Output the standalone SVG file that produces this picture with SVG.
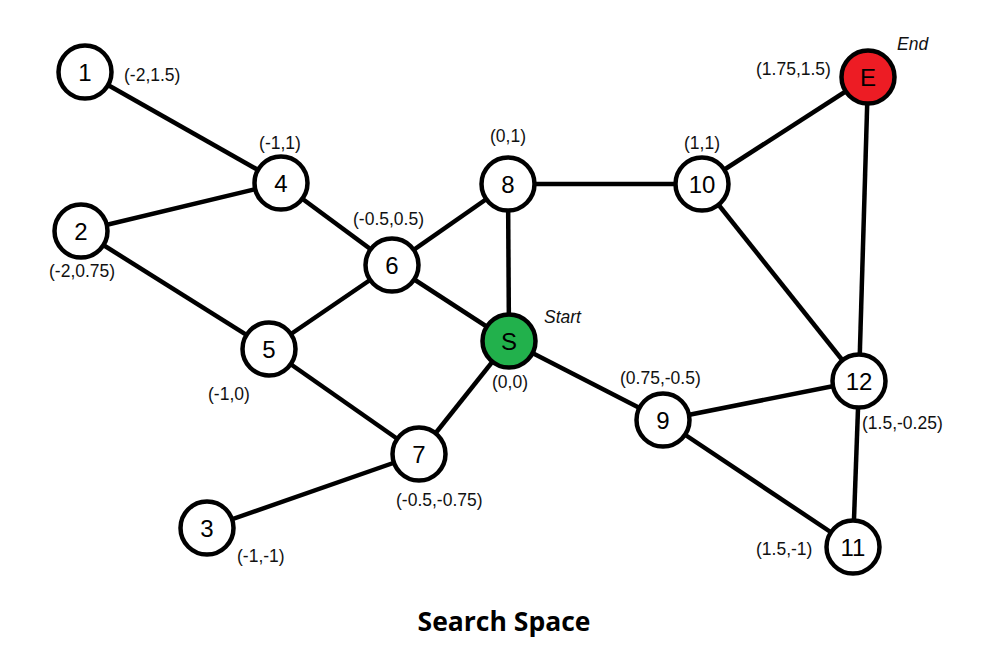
<svg xmlns="http://www.w3.org/2000/svg" width="1000" height="660" viewBox="0 0 1000 660">
<style>
.e{stroke:#000;stroke-width:4.5;fill:none}
.n{fill:#fff;stroke:#000;stroke-width:4.5}
.t{font-family:"Liberation Sans",Arial,sans-serif;font-size:24px;fill:#000;text-anchor:middle;dominant-baseline:central}
.l{font-family:"Liberation Sans",Arial,sans-serif;font-size:17.5px;fill:#111}
.i{font-family:"Liberation Sans",Arial,sans-serif;font-size:17.5px;font-style:italic;fill:#111}
</style>
<rect width="1000" height="660" fill="#fff"/>
<g id="edges">
<line class="e" x1="85" y1="72" x2="281" y2="183"/>
<line class="e" x1="81" y1="231" x2="281" y2="183"/>
<line class="e" x1="81" y1="231" x2="269" y2="349"/>
<line class="e" x1="281" y1="183" x2="392" y2="265"/>
<line class="e" x1="392" y1="265" x2="508" y2="184"/>
<line class="e" x1="392" y1="265" x2="269" y2="349"/>
<line class="e" x1="392" y1="265" x2="509" y2="341"/>
<line class="e" x1="508" y1="184" x2="509" y2="341"/>
<line class="e" x1="508" y1="184" x2="702" y2="184"/>
<line class="e" x1="702" y1="184" x2="868" y2="77"/>
<line class="e" x1="702" y1="184" x2="859" y2="381"/>
<line class="e" x1="868" y1="77" x2="859" y2="381"/>
<line class="e" x1="269" y1="349" x2="419" y2="454"/>
<line class="e" x1="419" y1="454" x2="509" y2="341"/>
<line class="e" x1="419" y1="454" x2="207" y2="528"/>
<line class="e" x1="509" y1="341" x2="663" y2="420"/>
<line class="e" x1="663" y1="420" x2="859" y2="381"/>
<line class="e" x1="663" y1="420" x2="853" y2="547"/>
<line class="e" x1="859" y1="381" x2="853" y2="547"/>
</g>
<g id="n1"><circle class="n" cx="85" cy="72" r="26.5"/><text class="t" x="85" y="72">1</text><text class="l" x="124" y="81">(-2,1.5)</text></g>
<g id="n2"><circle class="n" cx="81" cy="231" r="26.5"/><text class="t" x="81" y="231">2</text><text class="l" x="49" y="277">(-2,0.75)</text></g>
<g id="n3"><circle class="n" cx="207" cy="528" r="26.5"/><text class="t" x="207" y="528">3</text><text class="l" x="237" y="562">(-1,-1)</text></g>
<g id="n4"><circle class="n" cx="281" cy="183" r="26.5"/><text class="t" x="281" y="183">4</text><text class="l" x="280" y="149" text-anchor="middle">(-1,1)</text></g>
<g id="n5"><circle class="n" cx="269" cy="349" r="26.5"/><text class="t" x="269" y="349">5</text><text class="l" x="208" y="400">(-1,0)</text></g>
<g id="n6"><circle class="n" cx="392" cy="265" r="26.5"/><text class="t" x="392" y="265">6</text><text class="l" x="353" y="225">(-0.5,0.5)</text></g>
<g id="n7"><circle class="n" cx="419" cy="454" r="26.5"/><text class="t" x="419" y="454">7</text><text class="l" x="396" y="506">(-0.5,-0.75)</text></g>
<g id="n8"><circle class="n" cx="508" cy="184" r="26.5"/><text class="t" x="508" y="184">8</text><text class="l" x="508" y="142" text-anchor="middle">(0,1)</text></g>
<g id="nS"><circle class="n" cx="509" cy="341" r="26.5" style="fill:#22b14c"/><text class="t" x="509" y="341">S</text><text class="i" x="544" y="323">Start</text><text class="l" x="510" y="388" text-anchor="middle">(0,0)</text></g>
<g id="n9"><circle class="n" cx="663" cy="420" r="26.5"/><text class="t" x="663" y="420">9</text><text class="l" x="620" y="384">(0.75,-0.5)</text></g>
<g id="n10"><circle class="n" cx="702" cy="184" r="26.5"/><text class="t" x="702" y="184">10</text><text class="l" x="702" y="149" text-anchor="middle">(1,1)</text></g>
<g id="n11"><circle class="n" cx="853" cy="547" r="26.5"/><text class="t" x="853" y="547">11</text><text class="l" x="756" y="555">(1.5,-1)</text></g>
<g id="n12"><circle class="n" cx="859" cy="381" r="26.5"/><text class="t" x="859" y="381">12</text><text class="l" x="862" y="429">(1.5,-0.25)</text></g>
<g id="nE"><circle class="n" cx="868" cy="77" r="26.5" style="fill:#ed1c24"/><text class="t" x="868" y="77">E</text><text class="i" x="897" y="50">End</text><text class="l" x="756" y="75">(1.75,1.5)</text></g>
<text x="504" y="631" text-anchor="middle" style="font-family:'Open Sans','Liberation Sans',sans-serif;font-weight:bold;font-size:26.5px;fill:#000">Search Space</text>
</svg>
